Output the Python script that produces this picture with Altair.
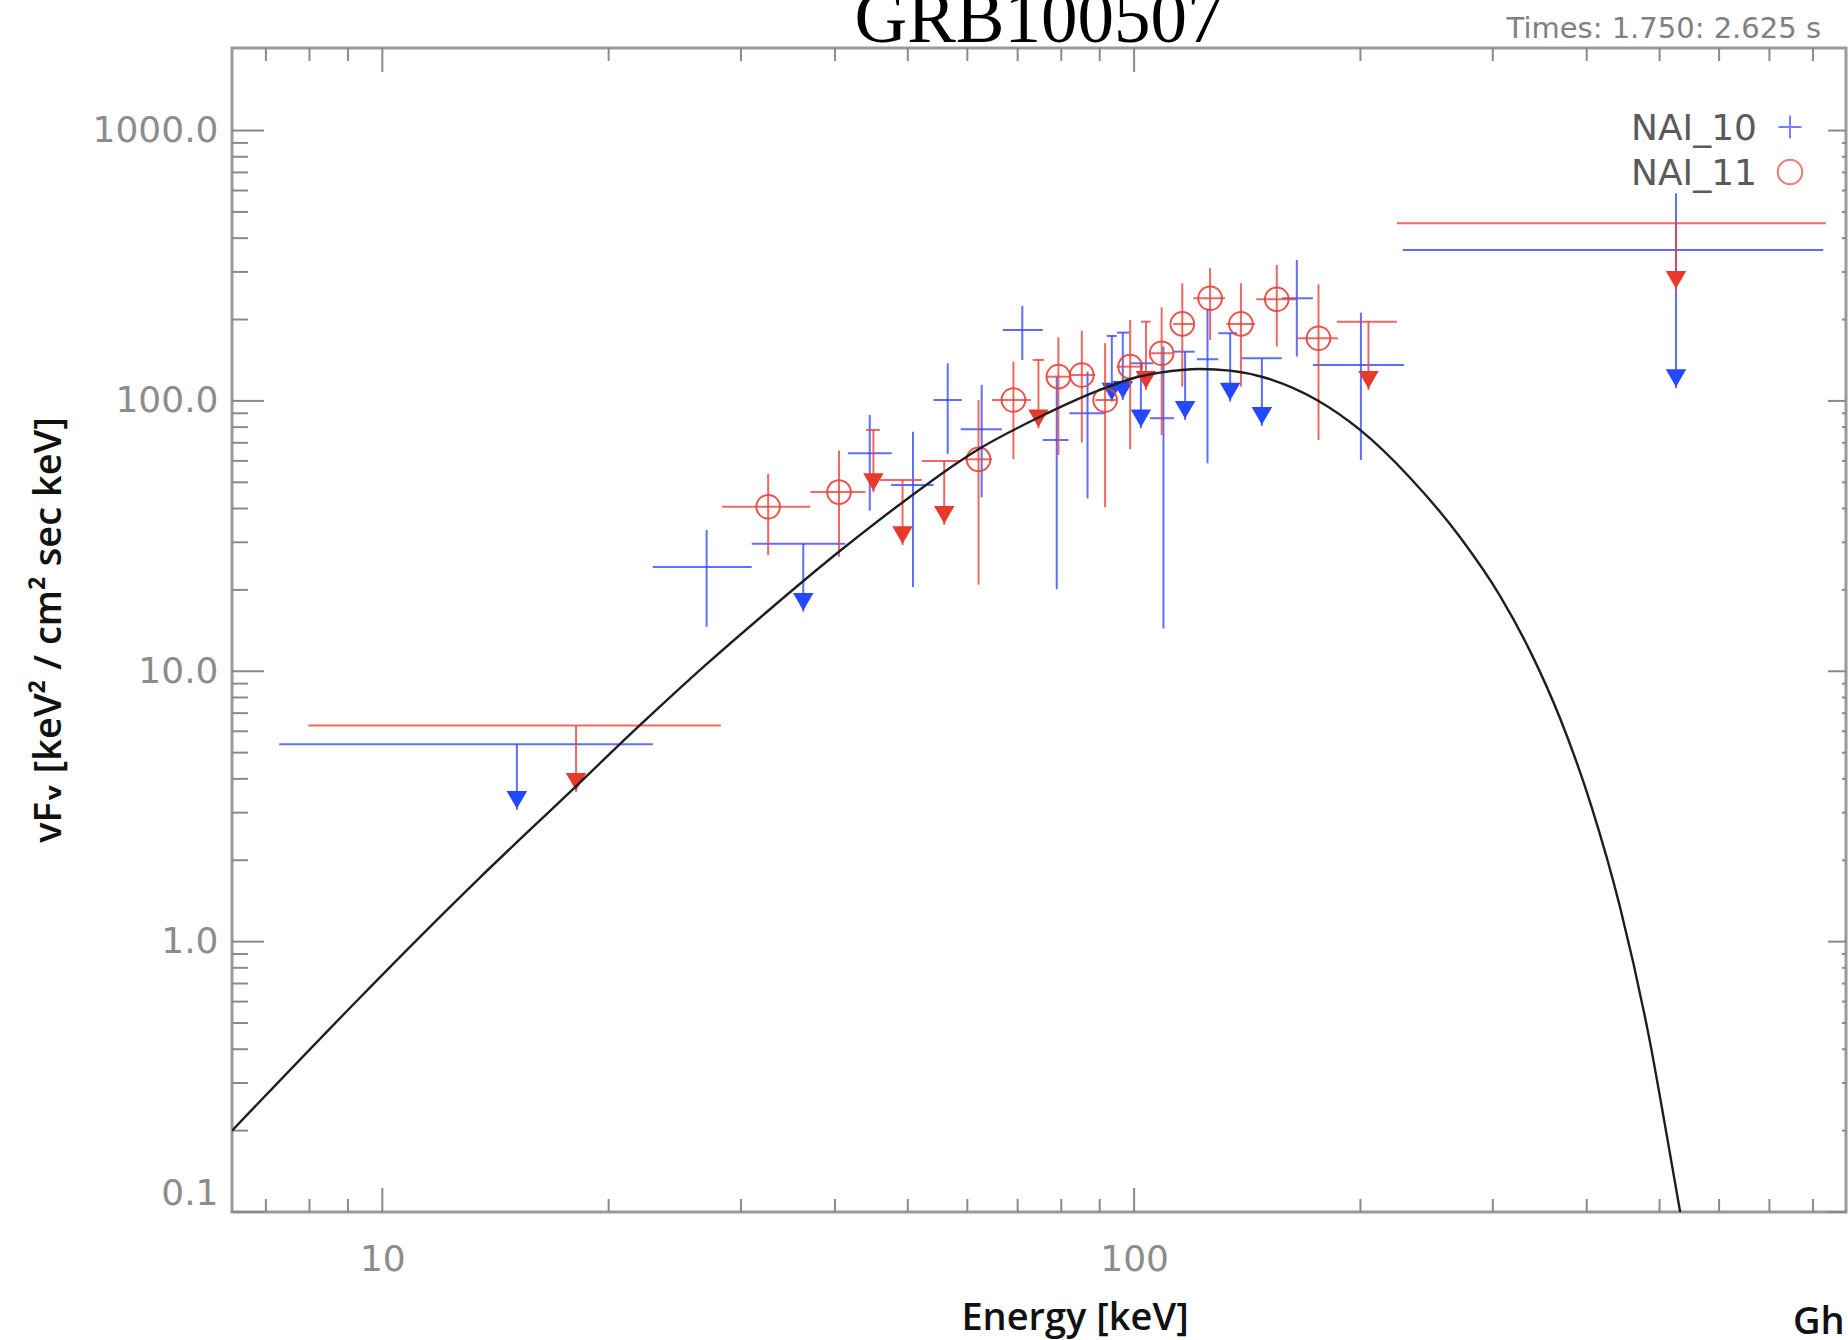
import altair as alt
import pandas as pd

# ---------------- data ----------------
# NAI_10 (blue) detections: energy centre / bin edges [keV], vFv value / error limits
b_E = [27.0, 44.5, 50.8, 56.5, 62.7, 71.0, 78.9, 86.7, 109.4, 125.2, 164.6, 200.3]
b_Elo = [22.9, 41.6, 47.5, 54.1, 58.8, 66.9, 75.6, 82.0, 105.0, 121.2, 157.2, 172.9]
b_Ehi = [31.0, 47.6, 54.1, 59.0, 66.7, 75.6, 81.8, 91.5, 113.0, 129.4, 172.9, 228.6]
b_F = [24.3, 64.0, 48.9, 100.8, 78.5, 183.0, 71.7, 90.0, 86.3, 142.6, 239.7, 135.8]
b_Flo = [14.6, 39.3, 20.5, 63.7, 44.0, 141.8, 20.1, 43.6, 14.4, 58.8, 145.8, 60.5]
b_Fhi = [33.3, 88.7, 76.9, 137.8, 114.6, 224.5, 122.9, 128.3, 158.8, 220.1, 332.2, 212.0]

# NAI_10 upper limits: level, top of the bar, arrow tip
bu_E = [15.1, 36.3, 93.4, 96.6, 102.1, 116.9, 134.2, 147.9, 525.8]
bu_Elo = [7.29, 31.0, 92.0, 94.9, 98.8, 112.8, 129.4, 139.0, 227.7]
bu_Ehi = [22.9, 41.3, 94.8, 98.5, 106.0, 120.4, 137.0, 157.2, 825.2]
bu_L = [5.37, 29.6, 173.9, 178.9, 137.8, 152.1, 178.0, 143.8, 361.6]
bu_T = [5.37, 29.6, 173.9, 178.9, 137.8, 152.1, 178.0, 143.8, 586.1]
bu_tip = [3.07, 16.6, 99.4, 100.8, 79.2, 85.0, 99.4, 80.8, 111.4]

# NAI_11 (red) detections
r_E = [32.6, 40.5, 62.1, 69.1, 79.3, 85.2, 91.5, 98.8, 108.8, 115.9, 126.2, 138.7, 154.8, 175.9]
r_Elo = [28.3, 37.1, 59.6, 64.7, 76.5, 82.3, 88.8, 94.8, 105.2, 112.7, 119.9, 132.6, 145.4, 164.6]
r_Ehi = [37.1, 43.9, 64.7, 72.9, 82.2, 88.8, 94.8, 102.3, 112.7, 119.9, 132.1, 144.9, 164.6, 186.7]
r_F = [40.6, 46.0, 60.8, 100.8, 122.9, 124.7, 100.8, 133.9, 150.1, 192.6, 239.7, 192.6, 237.7, 170.5]
r_Flo = [26.9, 26.5, 20.9, 60.8, 63.1, 70.1, 40.4, 66.3, 74.8, 112.9, 168.1, 112.9, 158.8, 71.7]
r_Fhi = [53.7, 65.5, 100.8, 139.7, 172.0, 181.9, 163.4, 199.3, 222.0, 272.4, 309.6, 272.4, 318.4, 270.1]

# NAI_11 upper limits
ru_E = [18.1, 45.0, 49.2, 55.9, 74.6, 103.7, 205.0, 525.8]
ru_Elo = [7.97, 44.0, 45.9, 52.2, 73.3, 102.1, 186.1, 223.6]
ru_Ehi = [28.2, 45.9, 52.2, 58.7, 75.9, 105.2, 223.6, 832.2]
ru_L = [6.30, 78.1, 51.0, 60.0, 141.8, 196.4, 196.4, 454.1]
ru_tip = [3.58, 46.0, 29.3, 34.8, 79.2, 109.8, 109.8, 257.3]

# model curve
m_E = [6.31, 13.38, 18.05, 22.03, 26.97, 32.81, 40.64, 49.9, 58.7, 62.4, 75.0, 90.1, 99.7,
       108.3, 122.4, 134.2, 150.2, 175.0, 199.8, 232.8, 271.4, 306.7, 338.2, 368.6, 405.3,
       443.0, 485.6, 511.5, 533.2]
m_F = [0.200, 1.69, 3.73, 6.33, 10.6, 17.0, 27.9, 43.4, 60.0, 66.8, 87.4, 109.8, 121.3,
       127.2, 131.3, 129.4, 121.3, 100.8, 78.1, 52.0, 31.3, 19.0, 11.5, 6.70, 3.20,
       1.34, 0.424, 0.190, 0.098]

# axes
x_label_values = [10, 100]
y_label_values = [0.1, 1, 10, 100, 1000]
x_major = [10, 100]
x_minor = [7, 8, 9, 20, 30, 40, 50, 60, 70, 80, 90, 200, 300, 400, 500, 600, 700, 800]
y_major = [0.1, 1, 10, 100, 1000]
y_minor = [0.2, 0.3, 0.4, 0.5, 0.6, 0.7, 0.8, 0.9, 2, 3, 4, 5, 6, 7, 8, 9,
           20, 30, 40, 50, 60, 70, 80, 90, 200, 300, 400, 500, 600, 700, 800, 900]

title_text = ["GRB100507"]
time_text = ["Times: 1.750: 2.625 s"]
legend_labels = ["NAI_10", "NAI_11"]
x_title = ["Energy [keV]"]
y_title = ["vF\u1d65 [keV\u00b2 / cm\u00b2 sec keV]"]
corner_text = ["Gh"]

# ---------------- styling ----------------
W, H = 1614, 1164
BLUE = "#3a48ff"
BLUE_TRI = "#2448ff"
RED = "#e8443a"
RED_TRI = "#e53a2c"
TICK = "#8a8a8a"
LW = 2

xs = alt.Scale(type="log", domain=[6.31, 885], nice=False)
ys = alt.Scale(type="log", domain=[0.1, 2020], nice=False)

xaxis = alt.Axis(values=x_label_values, format="d", labelFont="DejaVu Sans",
                 labelFontSize=36, labelColor="#8c8c8c", labelPadding=30,
                 labelBaseline="top", ticks=False, domain=False, grid=False,
                 title=None, labelFlush=False, labelOverlap=False)
yaxis = alt.Axis(values=y_label_values, format=".1f", labelFont="DejaVu Sans",
                 labelFontSize=36, labelColor="#8c8c8c", labelPadding=14,
                 labelBaseline={"condition": {"test": "datum.value < 0.5", "value": "bottom"},
                                "value": "middle"},
                 ticks=False, domain=False, grid=False, title=None,
                 labelFlush=False, labelOverlap=False)


def X(f):
    return alt.X(f, type="quantitative", scale=xs, axis=xaxis)


def Y(f):
    return alt.Y(f, type="quantitative", scale=ys, axis=yaxis)


blue_det = pd.DataFrame({"E": b_E, "Elo": b_Elo, "Ehi": b_Ehi, "F": b_F, "Flo": b_Flo, "Fhi": b_Fhi})
red_det = pd.DataFrame({"E": r_E, "Elo": r_Elo, "Ehi": r_Ehi, "F": r_F, "Flo": r_Flo, "Fhi": r_Fhi})
blue_ul = pd.DataFrame({"E": bu_E, "Elo": bu_Elo, "Ehi": bu_Ehi, "L": bu_L, "T": bu_T, "tip": bu_tip})
red_ul = pd.DataFrame({"E": ru_E, "Elo": ru_Elo, "Ehi": ru_Ehi, "L": ru_L, "T": ru_L, "tip": ru_tip})
model = pd.DataFrame({"E": m_E, "F": m_F})

layers = []


# frame ticks (inside)
def xticks(vals, length, top):
    y0 = 0 if top else H
    y1 = length if top else H - length
    return alt.Chart(pd.DataFrame({"v": vals})).mark_rule(color=TICK, strokeWidth=2).encode(
        x=X("v"), y=alt.value(y0), y2=alt.value(y1))


def yticks(vals, length, right):
    x0 = W if right else 0
    x1 = W - length if right else length
    return alt.Chart(pd.DataFrame({"v": vals})).mark_rule(color=TICK, strokeWidth=2).encode(
        y=Y("v"), x=alt.value(x0), x2=alt.value(x1))


layers += [xticks(x_major, 24, False), xticks(x_minor, 13, False),
           xticks(x_major, 24, True), xticks(x_minor, 13, True),
           yticks(y_major, 32, False), yticks(y_minor, 16, False),
           yticks(y_major, 18, True), yticks(y_minor, 4, True)]


def det(df, color):
    h = alt.Chart(df).mark_rule(color=color, strokeWidth=LW, opacity=0.8).encode(
        x=X("Elo"), x2="Ehi:Q", y=Y("F"))
    v = alt.Chart(df).mark_rule(color=color, strokeWidth=LW, opacity=0.8).encode(
        x=X("E"), y=Y("Flo"), y2="Fhi:Q")
    return [h, v]


def ul(df, color, tri_color):
    h = alt.Chart(df).mark_rule(color=color, strokeWidth=LW, opacity=0.8).encode(
        x=X("Elo"), x2="Ehi:Q", y=Y("L"))
    v = alt.Chart(df).mark_rule(color=color, strokeWidth=LW, opacity=0.8).encode(
        x=X("E"), y=Y("T"), y2="tip:Q")
    t = alt.Chart(df).mark_point(shape="triangle-down", filled=True, size=420, yOffset=-10,
                                 color=tri_color, opacity=1).encode(x=X("E"), y=Y("tip"))
    return [h, v, t]


layers += det(blue_det, BLUE)
layers += ul(blue_ul, BLUE, BLUE_TRI)
layers += det(red_det, RED)
layers += ul(red_ul, RED, RED_TRI)
layers.append(alt.Chart(red_det).mark_point(shape="circle", filled=False, size=560, stroke=RED,
                                            strokeWidth=2, opacity=0.9).encode(x=X("E"), y=Y("F")))

layers.append(alt.Chart(model).mark_line(color="#1e1e1e", strokeWidth=2.4, interpolate="monotone",
                                         clip=True).encode(x=X("E"), y=Y("F")))


# texts
def txt(values, x, y, **kw):
    return alt.Chart(pd.DataFrame({"t": values})).mark_text(**kw).encode(
        text="t:N", x=alt.value(x), y=alt.value(y))


layers.append(txt(title_text, 807, -6, font="Liberation Serif", fontSize=73, color="#000",
                  align="center", baseline="alphabetic"))
layers.append(txt(time_text, 1589, -10, font="DejaVu Sans", fontSize=29, color="#808080",
                  align="right", baseline="alphabetic"))
layers.append(txt(legend_labels[:1], 1525, 92, font="DejaVu Sans", fontSize=36, color="#5a5a5a",
                  align="right", baseline="alphabetic"))
layers.append(txt(legend_labels[1:], 1525, 137, font="DejaVu Sans", fontSize=36, color="#5a5a5a",
                  align="right", baseline="alphabetic"))
layers.append(alt.Chart(pd.DataFrame({"t": legend_labels[:1]})).mark_point(
    shape="M-1,0L1,0M0,-1L0,1", size=529, filled=False, stroke=BLUE, strokeWidth=2).encode(
    x=alt.value(1558), y=alt.value(79)))
layers.append(alt.Chart(pd.DataFrame({"t": legend_labels[1:]})).mark_point(
    shape="circle", size=600, filled=False, stroke=RED, strokeWidth=2).encode(
    x=alt.value(1558), y=alt.value(124)))
layers.append(txt(x_title, 843, 1282, font="Open Sans", fontSize=38, fontWeight=600,
                  color="#111", align="center", baseline="alphabetic"))
layers.append(txt(corner_text, 1561, 1286, font="Open Sans", fontSize=38, fontWeight=600,
                  color="#111", align="left", baseline="alphabetic"))
layers.append(txt(y_title, -182, 582, font="Open Sans, DejaVu Sans", fontSize=38, fontWeight=600,
                  color="#111", align="center", baseline="middle", angle=270))

chart = alt.layer(*layers).properties(
    width=W, height=H,
    autosize=alt.AutoSizeParams(type="none"),
    padding={"left": 232, "top": 48, "right": 2, "bottom": 128},
    background="white",
).configure_view(stroke="#9a9a9a", strokeWidth=3)

chart.save("out.html", embed_options={"renderer": "svg", "actions": False})
